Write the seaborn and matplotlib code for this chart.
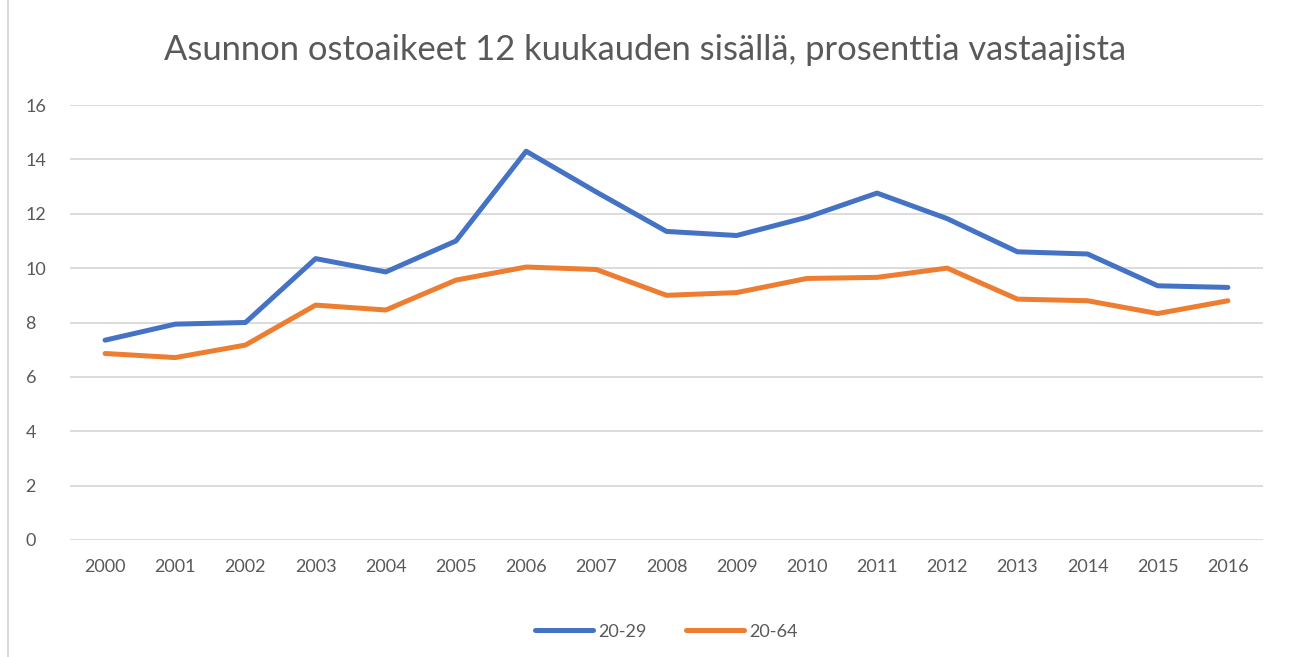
import numpy as np
import pandas as pd
import matplotlib.pyplot as plt
import seaborn as sns
from matplotlib.patches import Rectangle

years = list(range(2000, 2017))
ika_20_29 = [7.35, 7.94, 8.0, 10.35, 9.86, 11.0, 14.3, 12.8, 11.35, 11.2, 11.87,
             12.76, 11.82, 10.6, 10.52, 9.35, 9.29]
ika_20_64 = [6.86, 6.71, 7.17, 8.64, 8.46, 9.56, 10.04, 9.95, 9.0, 9.1, 9.62,
             9.66, 10.0, 8.86, 8.8, 8.33, 8.8]
series_names = ['20-29', '20-64']
colors = ['#4472C4', '#ED7D31']

df = pd.DataFrame({'vuosi': years * 2,
                   'arvo': ika_20_29 + ika_20_64,
                   'ryhma': [series_names[0]] * len(years) + [series_names[1]] * len(years)})

sns.set_style('white')
plt.rcParams['font.family'] = ['Lato', 'DejaVu Sans']
grey = '#595959'

fig = plt.figure(figsize=(12.9, 6.57), dpi=100)
ax = fig.add_axes([70 / 1290, 1 - 540 / 657, 1193 / 1290, 435 / 657])

sns.lineplot(data=df, x='vuosi', y='arvo', hue='ryhma', palette=colors,
             linewidth=3.6, ax=ax, legend=True)

ax.set_xlim(1999.5, 2016.5)
ax.set_ylim(0, 16)
ax.set_yticks(range(0, 17, 2))
ax.set_xticks(years)
ax.set_xticklabels([str(y) for y in years])
ax.yaxis.grid(True, color='#d9d9d9', linewidth=1.3)
ax.set_axisbelow(True)
for s in ax.spines.values():
    s.set_visible(False)
ax.tick_params(axis='both', length=0, labelsize=13, colors=grey)
ax.tick_params(axis='x', pad=14)
ax.tick_params(axis='y', pad=32)
for lab in ax.get_yticklabels():
    lab.set_horizontalalignment('left')
ax.set_xlabel('')
ax.set_ylabel('')

ax.legend(loc='upper center', bbox_to_anchor=(0.5, -0.155), ncol=2, frameon=False,
          fontsize=13, handlelength=3.2, handletextpad=0.3, columnspacing=2.2,
          labelcolor=grey)

fig.text(0.5, 1 - 50 / 657, 'Asunnon ostoaikeet 12 kuukauden sisällä, prosenttia vastaajista',
         ha='center', va='center', fontsize=24.8, color=grey)

fig.patches.append(Rectangle((8 / 1290, -0.01), 1.02, 1.02, transform=fig.transFigure,
                             fill=False, edgecolor='#d9d9d9', linewidth=1.5))

fig.savefig('out.png', dpi=100)
